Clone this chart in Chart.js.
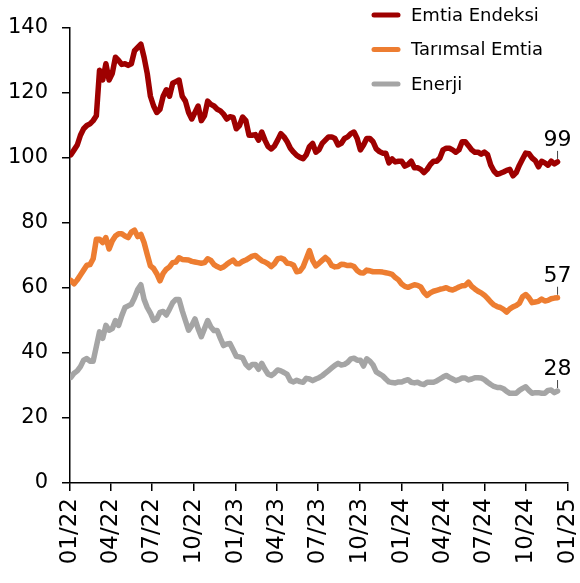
<!DOCTYPE html>
<html>
<head>
<meta charset="utf-8">
<script src="https://cdn.jsdelivr.net/npm/chart.js@4.4.1/dist/chart.umd.min.js"></script>
<style>
  html, body { margin: 0; padding: 0; background: #fff; }
  #wrap { width: 580px; height: 583px; }
</style>
</head>
<body>
<div id="wrap"><canvas id="lineChart" width="580" height="583"></canvas></div>
<script>
const seriesNames = ['Emtia Endeksi', 'Tarımsal Emtia', 'Enerji'];
const seriesColors = ['#9E0000', '#ED7D31', '#A5A5A5'];
const tickLabels = ['01/22', '04/22', '07/22', '10/22', '01/23', '04/23', '07/23',
    '10/23', '01/24', '04/24', '07/24', '10/24', '01/25'];
const firstWeek = '2022-01-03'; // weekly observations (Mondays)

const emtia = [
    101, 102.5, 104, 107, 109, 110, 110.5, 111.5, 113, 127,
    124, 129, 124, 126, 131, 130, 128.8, 129, 128.5, 129,
    133, 134, 135, 131, 126, 119, 116, 114, 115, 119,
    121, 119, 123, 123.5, 124, 119, 117.5, 114, 112, 114,
    116, 111.5, 113, 117.5, 116.5, 116, 115, 114.5, 113.5, 112,
    112.7, 112.5, 109, 110, 112.6, 111.5, 107, 107, 107.2, 105.5,
    108, 105.5, 103.5, 102.8, 103.7, 105.5, 107.5, 106.5, 105, 103,
    101.8, 100.8, 100.2, 99.8, 101, 103.5, 104.5, 101.8, 102.5, 104.5,
    105.5, 106.5, 106.5, 106, 104, 104.5, 106, 106.5, 107.5, 108,
    106, 102.5, 104, 106, 106, 105, 102.8, 102, 101.5, 101.5,
    98.5, 99.7, 98.8, 99, 99, 97.5, 98, 99, 97, 97,
    96.5, 95.5, 96.5, 98, 99, 99, 100, 102.5, 103, 103,
    102.5, 101.8, 102.5, 105, 105, 103.8, 102.5, 101.8, 101.8, 101.2,
    101.8, 101, 97.8, 96, 95, 95.3, 95.7, 96.2, 96.5, 94.5,
    95.5, 97.8, 99.7, 101.5, 101.3, 100, 99.2, 97.3, 99, 98.5,
    97.8, 99, 98.2, 98.8
];
const tarim = [
    62.3, 61.3, 62.5, 64, 65.5, 67, 67.2, 69, 75, 75,
    74, 75.5, 72, 74.5, 76, 76.7, 76.7, 76, 75.5, 77.2,
    77.8, 75.8, 76.5, 74, 70.3, 66.8, 66, 64.4, 62.2, 64.5,
    65.8, 66.5, 67.8, 68, 69.3, 68.8, 68.7, 68.6, 68.2, 68,
    67.8, 67.6, 67.8, 69, 68.5, 67.2, 66.6, 66.1, 66.5, 67.3,
    68, 68.6, 67.5, 67.5, 68.2, 68.6, 69.2, 69.8, 70, 69.2,
    68.4, 68, 67.4, 66.6, 67.5, 69, 69.2, 68.8, 67.6, 67.5,
    67, 65, 65.2, 66.5, 69, 71.5, 68.5, 66.8, 67.6, 68.5,
    69.4, 68.5, 66.9, 66.5, 66.6, 67.3, 67.2, 66.9, 67, 66.6,
    65.4, 64.7, 64.6, 65.5, 65.3, 65, 65, 65, 64.9, 64.7,
    64.5, 64.2, 63.2, 62.5, 61.2, 60.5, 60.2, 60.6, 61, 60.8,
    60.3, 58.7, 57.7, 58.5, 59, 59.3, 59.6, 59.8, 60.1, 59.6,
    59.4, 59.8, 60.3, 60.7, 60.8, 61.8, 60.5, 59.7, 59, 58.5,
    57.8, 56.8, 55.7, 54.8, 54.3, 54, 53.4, 52.6, 53.6, 54.2,
    54.6, 55.3, 57.3, 58, 57, 55.5, 55.7, 55.9, 56.6, 56,
    56.2, 56.7, 56.9, 57
];
const enerji = [
    32.5, 33.8, 34.5, 35.8, 37.8, 38.3, 37.5, 37.5, 42, 46.5,
    44.5, 48.5, 47, 47.5, 50, 48.5, 51.5, 54, 54.5, 55,
    57, 59.5, 61, 56.5, 54, 52.3, 50, 50.5, 52.5, 52.8,
    51.7, 53.5, 55.5, 56.5, 56.5, 53, 50, 47, 48.5, 50.5,
    47.5, 45, 47.5, 50, 48, 46.9, 46.9, 44.5, 42.3, 42.8,
    42.9, 41, 39, 38.8, 38.5, 36.5, 35.5, 36.5, 36.5, 35,
    36.8, 35, 33.5, 33.1, 33.8, 34.8, 34.5, 34, 33.4, 31.5,
    31.1, 31.6, 31.2, 31, 32.2, 32, 31.5, 32, 32.4, 33,
    33.8, 34.6, 35.4, 36.2, 36.8, 36.3, 36.5, 37.1, 38.2, 38.4,
    37.8, 37.8, 36, 38.2, 37.5, 36.3, 34.2, 33.6, 33, 32,
    31.1, 30.9, 30.8, 31.1, 31.1, 31.5, 31.8, 31, 30.8, 31,
    30.5, 30.3, 31, 31, 31, 31.4, 32, 32.6, 33.1, 32.5,
    32, 31.5, 31.8, 32.3, 32.3, 31.7, 32, 32.4, 32.4, 32.3,
    31.8, 31, 30.3, 29.7, 29.4, 29.4, 29, 28.2, 27.6, 27.6,
    27.6, 28.5, 29.1, 29.6, 28.5, 27.6, 27.8, 27.8, 27.6, 27.6,
    28.5, 28.6, 27.8, 28.3
];

const DAY = 86400000;
const origin = Date.UTC(2022, 0, 1);
const FONT = "'DejaVu Sans', sans-serif";

function dayOffset(ms) {
    return (ms - origin) / DAY;
}

// x values: days since 01/01/2022
const weekDays = emtia.map((v, i) => dayOffset(Date.parse(firstWeek) + i * 7 * DAY));
const tickDays = tickLabels.map(t => {
    const [m, y] = t.split('/');
    return dayOffset(Date.UTC(2000 + Number(y), Number(m) - 1, 1));
});

const datasets = [emtia, tarim, enerji].map((values, i) => ({
    label: seriesNames[i],
    data: values.map((v, j) => ({ x: weekDays[j], y: v })),
    borderColor: seriesColors[i],
    borderWidth: 5.5,
    pointRadius: 0,
    tension: 0,
    borderJoinStyle: 'round',
    borderCapStyle: 'round',
}));

// legend stacked in the top right corner
const cornerLegend = {
    id: 'cornerLegend',
    afterDraw(chart) {
        const ctx = chart.ctx;
        ctx.save();
        chart.data.datasets.forEach((ds, i) => {
            const y = 15 + i * 34.5;
            ctx.strokeStyle = ds.borderColor;
            ctx.lineWidth = 5;
            ctx.lineCap = 'round';
            ctx.beginPath();
            ctx.moveTo(374, y);
            ctx.lineTo(398, y);
            ctx.stroke();
            ctx.fillStyle = '#000';
            ctx.font = '18px ' + FONT;
            ctx.textBaseline = 'middle';
            ctx.textAlign = 'left';
            ctx.fillText(ds.label, 411, y + 1);
        });
        ctx.restore();
    }
};

// last value written above the end of each line
const endLabels = {
    id: 'endLabels',
    afterDatasetsDraw(chart) {
        const ctx = chart.ctx;
        ctx.save();
        chart.data.datasets.forEach((ds, i) => {
            const meta = chart.getDatasetMeta(i);
            const pt = meta.data[meta.data.length - 1];
            const last = ds.data[ds.data.length - 1].y;
            ctx.strokeStyle = '#444';
            ctx.lineWidth = 1;
            ctx.beginPath();
            ctx.moveTo(pt.x, pt.y - 11);
            ctx.lineTo(pt.x, pt.y - 3);
            ctx.stroke();
            ctx.fillStyle = '#000';
            ctx.font = '22px ' + FONT;
            ctx.textAlign = 'center';
            ctx.textBaseline = 'alphabetic';
            ctx.fillText(Math.round(last), pt.x, pt.y - 16);
        });
        ctx.restore();
    }
};

const ctx = document.getElementById('lineChart').getContext('2d');
const lineChart = new Chart(ctx, {
    type: 'line',
    data: { datasets },
    options: {
        responsive: false,
        animation: false,
        layout: { padding: { top: 28, right: 12, left: 0, bottom: 0 } },
        plugins: {
            legend: { display: false },
            tooltip: { enabled: false },
        },
        scales: {
            x: {
                type: 'linear',
                min: tickDays[0],
                max: tickDays[tickDays.length - 1],
                afterBuildTicks: axis => {
                    axis.ticks = tickDays.map(v => ({ value: v }));
                },
                afterFit: axis => {
                    axis.height = 100;
                    axis.paddingLeft = 0;
                    axis.paddingRight = 0;
                },
                border: { display: true, color: '#000', width: 1.5 },
                grid: { drawOnChartArea: false, color: '#000', lineWidth: 1.5, tickLength: 8 },
                ticks: {
                    autoSkip: false,
                    minRotation: 90,
                    maxRotation: 90,
                    padding: 7,
                    color: '#000',
                    font: { family: FONT, size: 23 },
                    callback: (v, i) => tickLabels[i],
                },
            },
            y: {
                min: 0,
                max: 140,
                afterFit: axis => { axis.width = 70; },
                border: { display: true, color: '#000', width: 1.5 },
                grid: { drawOnChartArea: false, color: '#000', lineWidth: 1.5, tickLength: 8 },
                ticks: {
                    stepSize: 20,
                    padding: 14,
                    color: '#000',
                    font: { family: FONT, size: 21 },
                },
            },
        },
    },
    plugins: [cornerLegend, endLabels],
});
</script>
</body>
</html>
